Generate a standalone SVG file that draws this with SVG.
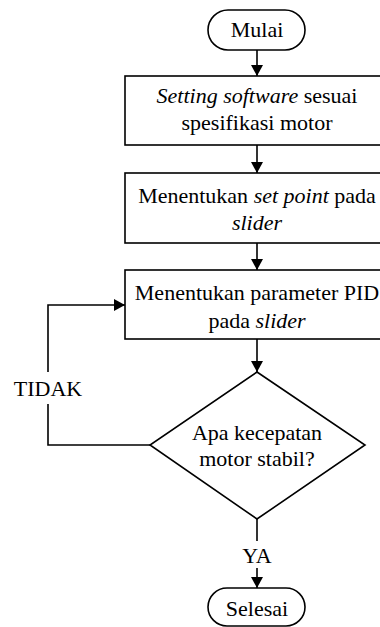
<svg xmlns="http://www.w3.org/2000/svg" width="380" height="627" viewBox="0 0 380 627">
<style>
.s{fill:#fff;stroke:#000;stroke-width:1.6}
.l{fill:none;stroke:#000;stroke-width:1.6}
text{font-family:'Liberation Serif','Times New Roman','DejaVu Serif',serif;font-size:22px;fill:#000;text-anchor:middle}
.i{font-style:italic}
</style>
<defs>
<marker id="ah" markerUnits="userSpaceOnUse" markerWidth="11" markerHeight="12" refX="11" refY="6" orient="auto">
<path d="M0,0 L11,6 L0,12 Z" fill="#000"/>
</marker>
</defs>
<rect width="380" height="627" fill="#fff"/>
<g id="connectors">
<line class="l" x1="257" y1="50" x2="257" y2="76" marker-end="url(#ah)"/>
<line class="l" x1="257" y1="145" x2="257" y2="173" marker-end="url(#ah)"/>
<line class="l" x1="257" y1="243" x2="257" y2="270" marker-end="url(#ah)"/>
<line class="l" x1="257" y1="339" x2="257" y2="372" marker-end="url(#ah)"/>
<polyline class="l" points="150,445 48,445 48,404"/>
<polyline class="l" points="48,372 48,305 125,305" marker-end="url(#ah)"/>
<text x="48" y="396">TIDAK</text>
<line class="l" x1="257" y1="519" x2="257" y2="541"/>
<text x="257" y="563">YA</text>
<line class="l" x1="257" y1="568" x2="257" y2="588" marker-end="url(#ah)"/>
</g>
<g id="mulai">
<rect class="s" x="208" y="10" width="97" height="40" rx="20"/>
<text x="257" y="37">Mulai</text>
</g>
<g id="setting">
<rect class="s" x="125" y="76" width="264" height="69"/>
<text x="257" y="103"><tspan class="i">Setting software</tspan> sesuai</text>
<text x="257" y="130">spesifikasi motor</text>
</g>
<g id="setpoint">
<rect class="s" x="125" y="173" width="264" height="70"/>
<text x="257" y="203">Menentukan <tspan class="i">set point</tspan> pada</text>
<text x="257" y="230" class="i">slider</text>
</g>
<g id="pid">
<rect class="s" x="125" y="270" width="264" height="69"/>
<text x="257" y="300">Menentukan parameter PID</text>
<text x="257" y="328">pada <tspan class="i">slider</tspan></text>
</g>
<g id="decision">
<polygon class="s" points="257,372 365,445 257,519 150,445"/>
<text x="257" y="440">Apa kecepatan</text>
<text x="257" y="466">motor stabil?</text>
</g>
<g id="selesai">
<rect class="s" x="208" y="588" width="97" height="38" rx="19"/>
<text x="257" y="616">Selesai</text>
</g>
</svg>
